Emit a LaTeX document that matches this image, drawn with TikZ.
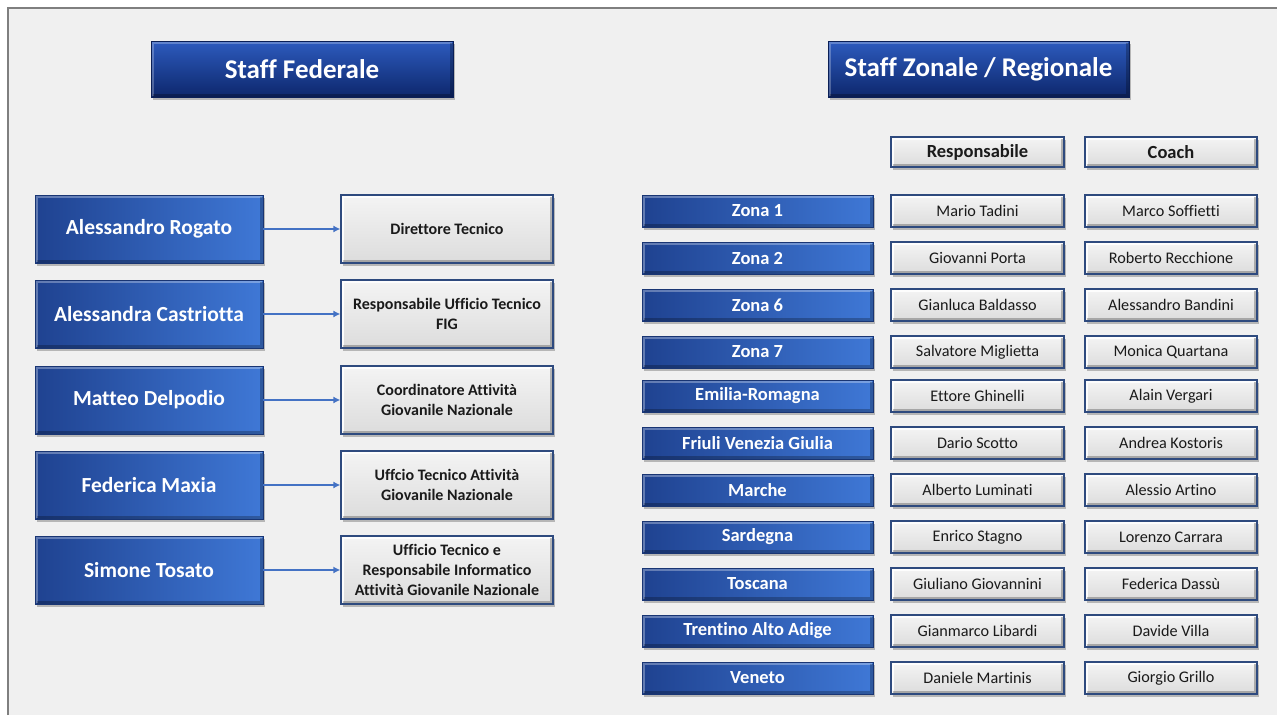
\documentclass[tikz,border=0pt]{standalone}
\usepackage{fontspec}
\setmainfont[Ligatures={NoCommon}]{Carlito}
\usetikzlibrary{shadows,arrows.meta}
\definecolor{bgc}{HTML}{F0F0F0}
\definecolor{framec}{HTML}{7F7F7F}
\definecolor{bluedark}{HTML}{1F4290}
\definecolor{bluelight}{HTML}{3F78D6}
\definecolor{titletop}{HTML}{2D5BBE}
\definecolor{titlebot}{HTML}{0D276C}
\definecolor{greytop}{HTML}{F4F4F4}
\definecolor{greybot}{HTML}{DCDCDC}
\definecolor{navyline}{HTML}{2E4A7E}
\definecolor{arrowc}{HTML}{4472C4}
\definecolor{textc}{HTML}{1A1A1A}
\tikzset{
  shad/.style={drop shadow={shadow xshift=2pt,shadow yshift=-3pt,opacity=0.35,fill=black!70}},
  bevel/.style={path picture={
     \draw[white,opacity=#1,line width=2.5pt]
       ([xshift=1.5pt,yshift=1.5pt]path picture bounding box.south west) --
       ([xshift=1.5pt,yshift=-1.5pt]path picture bounding box.north west) --
       ([xshift=-1.5pt,yshift=-1.5pt]path picture bounding box.north east);
     \draw[black,opacity=0.25,line width=2.5pt]
       ([xshift=1.5pt,yshift=1.5pt]path picture bounding box.south west) --
       ([xshift=-1.5pt,yshift=1.5pt]path picture bounding box.south east) --
       ([xshift=-1.5pt,yshift=-1.5pt]path picture bounding box.north east);}},
  titlebox/.style={shad,rectangle,top color=titletop,bottom color=titlebot,draw=titlebot!80!black,line width=0.6pt,bevel=0.25,
     minimum width=302pt,minimum height=56pt,inner sep=0pt,text=white,font=\fontsize{27}{32}\selectfont\bfseries},
  namebox/.style={shad,rectangle,left color=bluedark,right color=bluelight,draw=bluedark!80!black,line width=0.6pt,bevel=0.3,
     minimum width=228pt,minimum height=68pt,inner sep=0pt,text=white,font=\fontsize{21.5}{26}\selectfont\bfseries},
  rolebox/.style={shad,rectangle,top color=greytop,bottom color=greybot,draw=navyline,line width=1.2pt,bevel=0.9,
     minimum width=212pt,minimum height=68pt,inner sep=0pt,text=textc,align=center,font=\fontsize{16}{20}\selectfont\bfseries},
  zonebox/.style={shad,rectangle,left color=bluedark,right color=bluelight,draw=bluedark!80!black,line width=0.6pt,bevel=0.3,
     minimum width=231pt,minimum height=32pt,inner sep=0pt,text=white,font=\fontsize{18.5}{22}\selectfont\bfseries},
  headbox/.style={shad,rectangle,top color=greytop,bottom color=greybot,draw=navyline,line width=1.2pt,bevel=0.9,
     minimum width=173pt,minimum height=30pt,inner sep=0pt,text=textc,font=\fontsize{18.5}{22}\selectfont\bfseries},
  personbox/.style={shad,rectangle,top color=greytop,bottom color=greybot,draw=navyline,line width=1.2pt,bevel=0.9,
     minimum width=173pt,minimum height=32pt,inner sep=0pt,text=textc,font=\fontsize{16.2}{19}\selectfont},
  conn/.style={draw=arrowc,line width=1.6pt,-{Latex[length=7pt,width=7pt]}}
}
\begin{document}
\begin{tikzpicture}[x=1pt,y=-1pt]
\useasboundingbox (0,0) rectangle (1277,715);
\fill[white] (0,0) rectangle (1277,715);
\fill[bgc] (8,8) rectangle (1277,715);
\draw[framec,line width=2.5pt] (8,715) -- (8,8) -- (1277,8);
% titles
\node[titlebox] (t1) at (302,69) {Staff Federale};
\node[titlebox,minimum width=301pt] (t2) at (978.5,69) {Staff Zonale / Regionale};
% left column
\node[namebox] (p1) at (149,229) {Alessandro Rogato};
\node[namebox] (p2) at (149,314) {Alessandra Castriotta};
\node[namebox] (p3) at (149,400) {Matteo Delpodio};
\node[namebox] (p4) at (149,485) {Federica Maxia};
\node[namebox] (p5) at (149,570) {Simone Tosato};
\node[rolebox] (r1) at (447,229) {Direttore Tecnico};
\node[rolebox] (r2) at (447,314) {Responsabile Ufficio Tecnico\\FIG};
\node[rolebox] (r3) at (447,400) {Coordinatore Attività\\Giovanile Nazionale};
\node[rolebox] (r4) at (447,485) {Uffcio Tecnico Attività\\Giovanile Nazionale};
\node[rolebox] (r5) at (447,570) {Ufficio Tecnico e\\Responsabile Informatico\\Attività Giovanile Nazionale};
\foreach \i in {1,...,5}{\draw[conn] (p\i.east) -- (r\i.west);}
% right headers
\node[headbox] (h1) at (977.5,152) {Responsabile};
\node[headbox,minimum width=172pt] (h2) at (1171,152) {Coach};
% zones
\foreach \n/\y/\z/\r/\c in {
  1/211/Zona 1/Mario Tadini/Marco Soffietti,
  2/258/Zona 2/Giovanni Porta/Roberto Recchione,
  3/305/Zona 6/Gianluca Baldasso/Alessandro Bandini,
  4/352/Zona 7/Salvatore Miglietta/Monica Quartana,
  5/396/Emilia-Romagna/Ettore Ghinelli/Alain Vergari,
  6/443/Friuli Venezia Giulia/Dario Scotto/Andrea Kostoris,
  7/490/Marche/Alberto Luminati/Alessio Artino,
  8/537/Sardegna/Enrico Stagno/Lorenzo Carrara,
  9/584/Toscana/Giuliano Giovannini/Federica Dassù,
  10/631/Trentino Alto Adige/Gianmarco Libardi/Davide Villa,
  11/678/Veneto/Daniele Martinis/Giorgio Grillo}{
  \node[zonebox] (z\n) at (757.5,\y) {\z};
  \node[personbox] (zr\n) at (977.5,\y) {\r};
  \node[personbox,minimum width=172pt] (zc\n) at (1171,\y) {\c};
}
\end{tikzpicture}
\end{document}
